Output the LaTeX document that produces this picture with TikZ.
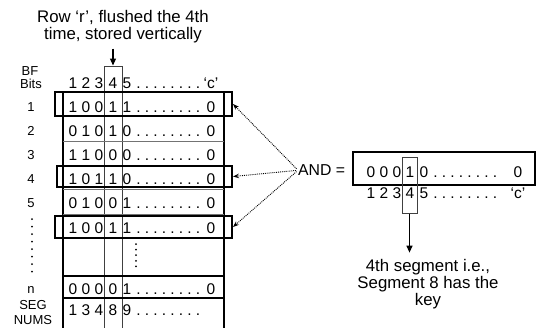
\documentclass[tikz,border=0pt]{standalone}
\usepackage{fontspec}
\setmainfont{Liberation Sans}
\usetikzlibrary{arrows.meta}
\newcommand\dotrun[2]{\hbox to #1{\leaders\hbox to #2{\hss.\hss}\hfill}}
\tikzset{
 dig/.style={inner sep=0pt, anchor=base, font=\fontsize{15.5}{15.5}\selectfont},
 lab/.style={inner sep=0pt, anchor=base, font=\fontsize{13}{13}\selectfont},
 big/.style={inner sep=0pt, anchor=base, font=\fontsize{16.8}{17}\selectfont},
 dotsn/.style={inner sep=0pt, anchor=base west, font=\fontsize{15.5}{15.5}\selectfont},
 outer/.style={line width=1.8pt},
 sep/.style={line width=1pt, draw=black!55},
 sepdark/.style={line width=1.4pt, draw=black},
 hl/.style={draw, line width=2pt, inner sep=0pt},
 colbox/.style={draw=black!75, line width=1pt, inner sep=0pt},
 dotarrow/.style={densely dotted, line width=0.9pt, -{Stealth[length=6pt,width=4.5pt]}},
 solidarrow/.style={line width=1.2pt, -{Triangle[length=7pt,width=6pt]}},
 vdots/.style={line width=2pt, line cap=round},
}
\newcommand\bitrow[8]{%
 \node[dig] (#1a) at (73,#2+5.5) {#3};
 \node[dig] (#1b) at (86,#2+5.5) {#4};
 \node[dig] (#1c) at (99,#2+5.5) {#5};
 \node[dig] (#1d) at (113,#2+5.5) {#6};
 \node[dig] (#1e) at (127,#2+5.5) {#7};
 \node[dotsn] (#1f) at (134,#2+5.5) {\dotrun{68pt}{8.5pt}};
 \node[dig] (#1g) at (211,#2+5.5) {#8};
}
\newcommand\androw[8]{%
 \node[dig] (#1a) at (371,#2+5.5) {#3};
 \node[dig] (#1b) at (384,#2+5.5) {#4};
 \node[dig] (#1c) at (397,#2+5.5) {#5};
 \node[dig] (#1d) at (410,#2+5.5) {#6};
 \node[dig] (#1e) at (424,#2+5.5) {#7};
 \node[dotsn] (#1f) at (431,#2+5.5) {\dotrun{76pt}{8.5pt}};
 \node[dig] (#1g) at (518,#2+5.5) {#8};
}
\begin{document}
\begin{tikzpicture}[x=1pt,y=-1pt]
\useasboundingbox (0,0) rectangle (536,327);

% title
\node[big] (title1) at (123,22) {Row ‘r’, flushed the 4th};
\node[big] (title2) at (123,39) {time, stored vertically};

% column box of the table
\node[colbox, minimum width=18pt, minimum height=280pt] (tcol) at (113,206) {};
\draw[solidarrow, shorten <=6pt] (title2.south -| tcol.north) -- (tcol.north);

% table frame
\draw[outer] (63,340) -- (63,92) -- (224,92) -- (224,340);
\foreach \y in {116.5,141.5,165.5,189.5,214} \draw[sep] (63,\y) -- (224,\y);
\foreach \y in {238,276,298} \draw[sepdark] (63,\y) -- (224,\y);

% left labels
\node[lab] (bf) at (30,75.5) {BF};
\node[lab] (bits) at (31,88) {Bits};
\node[lab] (l1) at (31,111.5) {1};
\node[lab] (l2) at (31,135.5) {2};
\node[lab] (l3) at (31,159.5) {3};
\node[lab] (l4) at (31,183.5) {4};
\node[lab] (l5) at (31,207.5) {5};
\coordinate (ld1) at (32,219);
\coordinate (ld2) at (32,272);
\draw[vdots, dash pattern=on 0pt off 7.5pt] (ld1) -- (ld2);
\node[lab] (ln) at (31,293) {n};
\node[lab] (seg) at (33,309.5) {SEG};
\node[lab] (nums) at (33,324) {NUMS};

% header and rows
\bitrow{hd}{83}{1}{2}{3}{4}{5}{‘c’}
\bitrow{ra}{106.5}{1}{0}{0}{1}{1}{0}
\bitrow{rb}{130.5}{0}{1}{0}{1}{0}{0}
\bitrow{rc}{154.5}{1}{1}{0}{0}{0}{0}
\bitrow{rd}{178.5}{1}{0}{1}{1}{0}{0}
\bitrow{re}{202.5}{0}{1}{0}{0}{1}{0}
\bitrow{rf}{227.5}{1}{0}{0}{1}{1}{0}
\coordinate (td1) at (136,244);
\coordinate (td2) at (136,272);
\draw[vdots, dash pattern=on 0pt off 5.6pt] (td1) -- (td2);
\bitrow{rn}{289}{0}{0}{0}{0}{1}{0}
\node[dig] (sga) at (73,315.5) {1};
\node[dig] (sgb) at (86,315.5) {3};
\node[dig] (sgc) at (99,315.5) {4};
\node[dig] (sgd) at (113,315.5) {8};
\node[dig] (sge) at (127,315.5) {9};
\node[dotsn] (sgf) at (134,315.5) {\dotrun{76pt}{8.5pt}};

% highlight boxes
\node[hl, minimum width=177pt, minimum height=24pt] (h1) at (143.5,104) {};
\node[hl, minimum width=175pt, minimum height=21pt] (h4) at (144.5,176.5) {};
\node[hl, minimum width=177pt, minimum height=22pt] (h6) at (143.5,227) {};

% AND
\node[inner sep=0pt, anchor=base west, font=\fontsize{15.8}{16}\selectfont] (and) at (298,175.7) {AND =};
\draw[dotarrow, shorten <=2pt] (and.west) -- (h1.east);
\draw[dotarrow, shorten <=2pt] (and.west) -- (h4.east);
\draw[dotarrow, shorten <=2pt] (and.west) -- (h6.east);

\node[hl, minimum width=182pt, minimum height=33pt] (andbox) at (444,168.5) {};
\node[colbox, minimum width=15pt, minimum height=56pt] (acol) at (409.5,185) {};
\androw{aa}{172}{0}{0}{0}{1}{0}{0}
\androw{ab}{193}{1}{2}{3}{4}{5}{‘c’}

% result
\node[big] (res1) at (428,271) {4th segment i.e.,};
\node[big] (res2) at (428,288.5) {Segment 8 has the};
\node[big] (res3) at (428,305) {key};
\draw[solidarrow, shorten >=6pt] (acol.south) -- (acol.south |- res1.north);
\end{tikzpicture}
\end{document}
